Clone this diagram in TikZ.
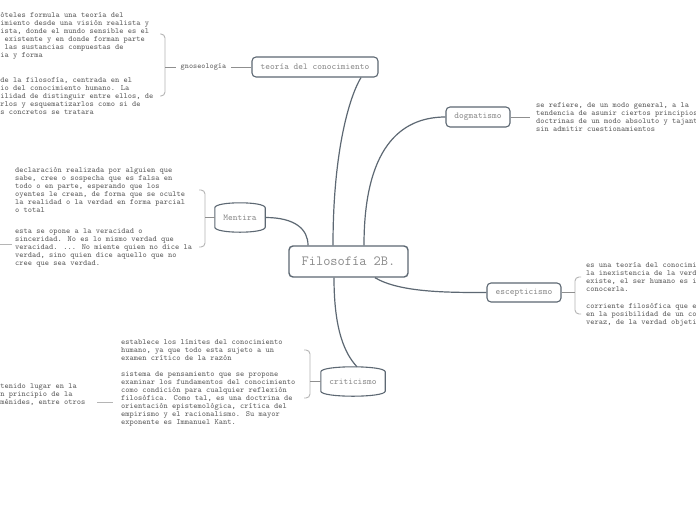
\documentclass[tikz,border=0pt]{standalone}
\usepackage{fontspec}
\usetikzlibrary{calc}
\definecolor{boxc}{HTML}{5D6873}
\definecolor{ntext}{HTML}{8A8A8A}
\definecolor{ltext}{HTML}{5E5E5E}
\definecolor{brc}{HTML}{B5B5B5}
\definecolor{conc}{HTML}{8F8F8F}
\newcommand\barreldraw[1]{%
  \draw[boxline] let \p1=(#1.north west), \p2=(#1.south east) in
    (\x1,\y1-5pt) .. controls (\x1,\y1+1.67pt) and (\x2,\y1+1.67pt) .. (\x2,\y1-5pt)
    -- (\x2,\y2+5pt) .. controls (\x2,\y2-1.67pt) and (\x1,\y2-1.67pt) .. (\x1,\y2+5pt) -- cycle;}
\begin{document}
\begin{tikzpicture}[x=1pt,y=-1pt,
  boxline/.style={draw=boxc,line width=1.1pt},
  mainbox/.style={draw=boxc,line width=1.1pt,rounded corners=4pt,fill=white,inner sep=0pt,
    font=\ttfamily\fontsize{9}{9}\selectfont,text=ntext},
  centerbox/.style={mainbox,line width=1.4pt,font=\ttfamily\fontsize{14}{14}\selectfont},
  barrel/.style={inner sep=0pt,font=\ttfamily\fontsize{9}{9}\selectfont,text=ntext},
  leaf/.style={anchor=north west,inner sep=0pt,align=left,text=ltext,
    font=\ttfamily\fontsize{8}{8}\selectfont},
  conn/.style={draw=boxc,line width=1.2pt},
  lconn/.style={draw=conc,line width=0.8pt},
  brk/.style={draw=brc,line width=0.9pt,rounded corners=4pt}]
\clip (0,0) rectangle (696,520);
\fill[white] (0,0) rectangle (696,520);

% main nodes
\node[centerbox,minimum width=119pt,minimum height=31pt] (c) at (348.5,261.5) {Filosofía 2B.};
\node[mainbox,minimum width=126pt,minimum height=20pt] (t) at (315,67) {teoría del conocimiento};
\node[mainbox,minimum width=64pt,minimum height=20pt] (d) at (478,117) {dogmatismo};
\node[mainbox,minimum width=74pt,minimum height=19pt] (e) at (524,292.5) {escepticismo};
\node[barrel,minimum width=50pt,minimum height=29pt] (m) at (240,217.5) {Mentira};
\node[barrel,minimum width=64pt,minimum height=29pt] (k) at (353,381.5) {criticismo};
\barreldraw{m}
\barreldraw{k}

% label gnoseologia
\node[inner xsep=5pt,inner ysep=0pt,text=ltext,font=\ttfamily\fontsize{7.8}{8}\selectfont] (g) at (203.5,67) {gnoseología};

% main connectors
\draw[conn] ([xshift=-15.5pt]c.north) .. controls +(0,-96) and +(-11,18) .. ([xshift=46pt]t.south);
\draw[conn] ([xshift=15.5pt]c.north) .. controls +(0,-96) and +(-46,0) .. (d.west);
\draw[conn] (m.east) .. controls +(30,0) and +(0,-16) .. ([xshift=-40.5pt]c.north);
\draw[conn] ([xshift=-14.5pt]c.south) .. controls +(0,53) and +(-12,-13) .. ([xshift=4pt]k.north);
\draw[conn] ([xshift=26.5pt]c.south) .. controls +(25,15) and +(-37,0) .. (e.west);

% leaf texts
\node[leaf] (g1) at (-21,12.7) {Aristóteles formula una teoría del\\conocimiento desde una visión realista y\\empirista, donde el mundo sensible es el\\único existente y en donde forman parte\\de él las sustancias compuestas de\\materia y forma};
\node[leaf] (g2) at (-21,77.7) {Rama de la filosofía, centrada en el\\estudio del conocimiento humano. La\\posibilidad de distinguir entre ellos, de\\aislarlos y esquematizarlos como si de\\hechos concretos se tratara};
\node[leaf] (d1) at (536,102.7) {se refiere, de un modo general, a la\\tendencia de asumir ciertos principios o\\doctrinas de un modo absoluto y tajante,\\sin admitir cuestionamientos};
\node[leaf] (m1) at (15,167.7) {declaración realizada por alguien que\\sabe, cree o sospecha que es falsa en\\todo o en parte, esperando que los\\oyentes le crean, de forma que se oculte\\la realidad o la verdad en forma parcial\\o total};
\node[leaf] (m2) at (15,228.7) {esta se opone a la veracidad o\\sinceridad. No es lo mismo verdad que\\veracidad. ... No miente quien no dice la\\verdad, sino quien dice aquello que no\\cree que sea verdad.};
\node[leaf] (e1) at (586,262.7) {es una teoría del conocimiento que afirma\\la inexistencia de la verdad, y si esta\\existe, el ser humano es incapaz de\\conocerla.};
\node[leaf] (e2) at (586,303.7) {corriente filosófica que establece dudas\\en la posibilidad de un conocimiento\\veraz, de la verdad objetiva.};
\node[leaf] (k1) at (121,339.7) {establece los límites del conocimiento\\humano, ya que todo esta sujeto a un\\examen crítico de la razón};
\node[leaf] (k2) at (121,371.7) {sistema de pensamiento que se propone\\examinar los fundamentos del conocimiento\\como condición para cualquier reflexión\\filosófica. Como tal, es una doctrina de\\orientación epistemológica, crítica del\\empirismo y el racionalismo. Su mayor\\exponente es Immanuel Kant.};
\node[leaf] (o1) at (-12.6,383.7) {ha tenido lugar en la\\y en principio de la\\Parménides, entre otros};

% brackets
\draw[brk] (160,34) -- (165,34) -- (165,96) -- (160,96);
\draw[brk] (199,190) -- (205,190) -- (205,247) -- (199,247);
\draw[brk] (304,350) -- (310,350) -- (310,398) -- (304,398);
\draw[brk] (581,277) -- (575,277) -- (575,314) -- (581,314);

% leaf connectors
\coordinate (gb) at (165,67);
\coordinate (mb) at (205,217.5);
\coordinate (kb) at (310,381.5);
\coordinate (eb) at (575,292.5);
\coordinate (db) at (530,117);
\draw[lconn] (g.west) -- (gb);
\draw[lconn] (g.east) -- (t.west);
\draw[lconn] (mb) -- (m.west);
\draw[lconn] (kb) -- (k.west);
\draw[lconn] (e.east) -- (eb);
\draw[lconn] (d.east) -- (db);
\coordinate (xa) at (0,244);
\coordinate (xb) at (12,244);
\coordinate (ya) at (97,402);
\coordinate (yb) at (113,402);
\draw[lconn,draw=brc] (xa) -- (xb);
\draw[lconn,draw=brc] (ya) -- (yb);
\end{tikzpicture}
\end{document}
